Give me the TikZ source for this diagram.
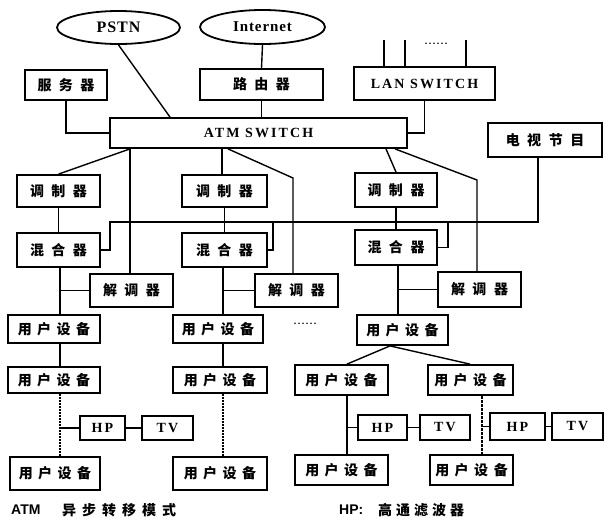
\documentclass[tikz,border=0pt]{standalone}
\usepackage{fontspec}
\setmainfont{Liberation Serif}
\newfontfamily\cjk{Noto Sans CJK SC}
\newfontfamily\latsp{Liberation Serif}[LetterSpace=15]
\newfontfamily\latsq{Liberation Serif}[LetterSpace=6]
\newfontfamily\footsans{Liberation Sans}
\usetikzlibrary{shapes.geometric}
\newcommand\gp{\hspace{7.5pt}}
\newcommand\gq{\hspace{5.5pt}}
\tikzset{
  box/.style={draw, line width=1.8pt, inner sep=0pt, font=\cjk\bfseries\fontsize{14}{14}\selectfont},
  lbox/.style={box, font=\latsp\bfseries\fontsize{14}{14}\selectfont},
  oval/.style={draw, ellipse, line width=1.8pt, inner sep=0pt, font=\latsq\bfseries\fontsize{15}{15}\selectfont},
  cn/.style={line width=1.4pt},
  dt/.style={line width=2.6pt, dash pattern=on 2pt off 1pt},
  dsh/.style={line width=1.3pt, dash pattern=on 3pt off 1pt},
  dots/.style={font=\latsp\bfseries\fontsize{10}{10}\selectfont, inner sep=0pt},
  foot/.style={inner sep=0pt, anchor=west}
}
\begin{document}
\begin{tikzpicture}[x=1pt,y=-1pt]
\useasboundingbox (0,0) rectangle (615,523);
% ellipses
\node[oval, minimum width=123pt, minimum height=33pt] (pstn) at (118.5,27.5) {\fontsize{16}{16}\selectfont PSTN};
\node[oval, minimum width=125pt, minimum height=34pt] (inet) at (262.5,27) {Internet};
% top row boxes
\node[box, minimum width=82pt, minimum height=30pt] (srv) at (66,85) {服\gp 务\gp 器};
\node[box, minimum width=123pt, minimum height=31pt] (rtr) at (261.5,84.5) {路\gp 由\gp 器};
\node[lbox, minimum width=141pt, minimum height=33pt] (lan) at (424.5,83.5) {LAN SWITCH};
\node[lbox, minimum width=297pt, minimum height=30pt] (atm) at (258.5,133) {ATM SWITCH};
\node[box, minimum width=114pt, minimum height=34pt] (tvp) at (545,140) {电\gp 视\gp 节\gp 目};
% modulators
\node[box, minimum width=83pt, minimum height=32pt] (mod1) at (58.5,191) {调\gp 制\gp 器};
\node[box, minimum width=85pt, minimum height=32pt] (mod2) at (224.5,191) {调\gp 制\gp 器};
\node[box, minimum width=82pt, minimum height=34pt] (mod3) at (396,190) {调\gp 制\gp 器};
% mixers
\node[box, minimum width=83pt, minimum height=34pt] (mix1) at (58.5,250) {混\gp 合\gp 器};
\node[box, minimum width=85pt, minimum height=34pt] (mix2) at (224.5,250) {混\gp 合\gp 器};
\node[box, minimum width=82pt, minimum height=35pt] (mix3) at (396,247.5) {混\gp 合\gp 器};
% demodulators
\node[box, minimum width=83pt, minimum height=33pt] (dem1) at (131.5,290.5) {解\gp 调\gp 器};
\node[box, minimum width=83pt, minimum height=33pt] (dem2) at (296.5,290.5) {解\gp 调\gp 器};
\node[box, minimum width=83pt, minimum height=35pt] (dem3) at (479.5,289.5) {解\gp 调\gp 器};
% user devices
\node[box, minimum width=92pt, minimum height=28pt] (u1) at (54,329) {用\gq 户\gq 设\gq 备};
\node[box, minimum width=90pt, minimum height=28pt] (u2) at (218,329) {用\gq 户\gq 设\gq 备};
\node[box, minimum width=91pt, minimum height=30pt] (u3) at (402.5,330) {用\gq 户\gq 设\gq 备};
\node[box, minimum width=92pt, minimum height=26pt] (u1b) at (54,380) {用\gq 户\gq 设\gq 备};
\node[box, minimum width=94pt, minimum height=26pt] (u2b) at (220,380) {用\gq 户\gq 设\gq 备};
\node[box, minimum width=93pt, minimum height=30pt] (u3a) at (341.5,380) {用\gq 户\gq 设\gq 备};
\node[box, minimum width=85pt, minimum height=30pt] (u3b) at (470.5,380) {用\gq 户\gq 设\gq 备};
\node[box, minimum width=90pt, minimum height=33pt] (u1c) at (55,473.5) {用\gq 户\gq 设\gq 备};
\node[box, minimum width=94pt, minimum height=33pt] (u2c) at (220,473.5) {用\gq 户\gq 设\gq 备};
\node[box, minimum width=93pt, minimum height=30pt] (u3c) at (341.5,470) {用\gq 户\gq 设\gq 备};
\node[box, minimum width=83pt, minimum height=30pt] (u3d) at (471.5,470) {用\gq 户\gq 设\gq 备};
% HP / TV
\node[lbox, minimum width=45pt, minimum height=24pt] (hp1) at (102.5,428) {HP};
\node[lbox, minimum width=51pt, minimum height=24pt] (tv1) at (167.5,428) {TV};
\node[lbox, minimum width=49pt, minimum height=25pt] (hp2) at (382.5,427.5) {HP};
\node[lbox, minimum width=50pt, minimum height=25pt] (tv2) at (445,427.5) {TV};
\node[lbox, minimum width=55pt, minimum height=27pt] (hp3) at (517.5,426.5) {HP};
\node[lbox, minimum width=51pt, minimum height=27pt] (tv3) at (577.5,426.5) {TV};
% dots
\node[dots] (dl) at (436,44) {......};
\node[dots] (dm) at (305,324) {......};
% footer
\node[foot, font=\footsans\bfseries\fontsize{14}{14}\selectfont] (f1) at (11,510) {ATM};
\node[foot, font=\cjk\bfseries\fontsize{14}{14}\selectfont] (f2) at (62,510) {异\hspace{6pt}步\hspace{6pt}转\hspace{6pt}移\hspace{6pt}模\hspace{6pt}式};
\node[foot, font=\footsans\bfseries\fontsize{14}{14}\selectfont] (f3) at (339,510) {HP:};
\node[foot, font=\cjk\bfseries\fontsize{14}{14}\selectfont] (f4) at (378,510) {高\hspace{4pt}通\hspace{4pt}滤\hspace{4pt}波\hspace{4pt}器};
% connectors top
\draw[cn] (pstn.south) -- (170,0 |- atm.north);
\draw[cn] (inet.south) -- (rtr.north);
\draw[cn] (rtr.south) -- (rtr.south |- atm.north);
\draw[cn] (srv.south) |- (atm.west);
\draw[cn] (lan.south) |- (atm.east);
\coordinate (l1) at (384,40);
\coordinate (l2) at (405,40);
\coordinate (l3) at (466,40);
\draw[cn] (l1) -- (l1 |- lan.north);
\draw[cn] (l2) -- (l2 |- lan.north);
\draw[cn] (l3) -- (l3 |- lan.north);
% TV programme bus
\coordinate (b1) at (110,222);
\coordinate (b2) at (273,222);
\coordinate (b3) at (448,222);
\draw[cn] (538,0 |- tvp.south) |- (b1) |- (mix1.east);
\draw[cn] (b2) |- (mix2.east);
\draw[cn] (b3) |- (mix3.east);
% ATM to modulators / demodulators
\coordinate (s1) at (130,0 |- atm.south);
\draw[cn] (s1) -- (mod1.north);
\draw[cn] (s1) -- (s1 |- dem1.north);
\draw[cn] (222,0 |- atm.south) -- (222,0 |- mod2.north);
\coordinate (k2) at (293,178);
\draw[cn] (228,0 |- atm.south) -- (k2) -- (k2 |- dem2.north);
\draw[cn] (386,0 |- atm.south) -- (mod3.north);
\coordinate (k3) at (477,180);
\draw[cn] (395,0 |- atm.south) -- (k3) -- (k3 |- dem3.north);
% modulator -> mixer
\draw[cn] (mod1.south) -- (mix1.north);
\draw[cn] (mod2.south) -- (mix2.north);
\draw[cn] (mod3.south) -- (mix3.north);
% mixer -> user, demod branch
\coordinate (m1) at (60,0 |- mix1.south);
\coordinate (m2) at (223,0 |- mix2.south);
\coordinate (m3) at (398,0 |- mix3.south);
\draw[cn] (m1) -- (m1 |- u1.north);
\draw[cn] (m1 |- dem1.west) -- (dem1.west);
\draw[cn] (m2) -- (m2 |- u2.north);
\draw[cn] (m2 |- dem2.west) -- (dem2.west);
\draw[cn] (m3) -- (m3 |- u3.north);
\draw[cn] (m3 |- dem3.west) -- (dem3.west);
% user chains
\draw[cn] (m1 |- u1.south) -- (m1 |- u1b.north);
\draw[cn] (m2 |- u2.south) -- (m2 |- u2b.north);
\coordinate (t3) at (390,0 |- u3.south);
\draw[cn] (t3) -- (347,0 |- u3a.north);
\draw[cn] (t3) -- (470,0 |- u3b.north);
% lower chains with HP/TV
\draw[dt] (m1 |- u1b.south) -- (m1 |- u1c.north);
\draw[cn] (m1 |- hp1.west) -- (hp1.west);
\draw[cn] (hp1.east) -- (tv1.west);
\draw[dt] (m2 |- u2b.south) -- (m2 |- u2c.north);
\coordinate (v3) at (347,0 |- u3a.south);
\draw[cn] (v3) -- (v3 |- u3c.north);
\draw[cn] (v3 |- hp2.west) -- (hp2.west);
\draw[cn] (hp2.east) -- (tv2.west);
\coordinate (v4) at (482,0 |- u3b.south);
\draw[dsh] (v4) -- (v4 |- u3d.north);
\draw[cn] (v4 |- hp3.west) -- (hp3.west);
\draw[cn] (hp3.east) -- (tv3.west);
\end{tikzpicture}
\end{document}
